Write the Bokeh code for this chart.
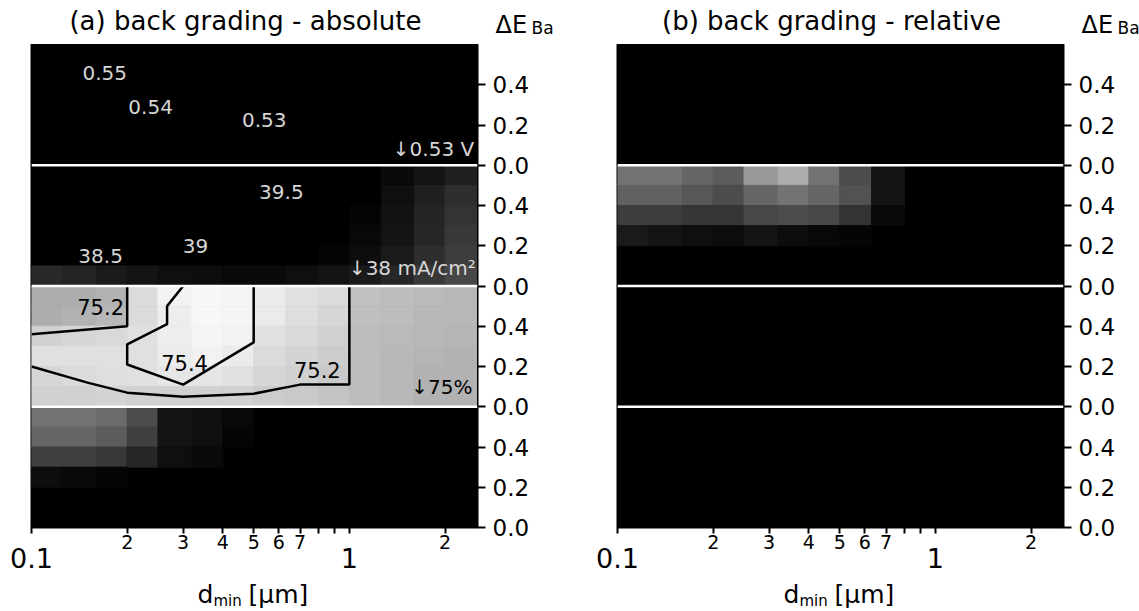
import numpy as np
from bokeh.plotting import figure
from bokeh.models import (FixedTicker, CustomJSTickFormatter, Span, LogAxis, LinearAxis,
                          ColumnDataSource, Range1d)
from bokeh.layouts import row, column
from bokeh.embed import file_html
from bokeh.resources import INLINE
from bokeh.core.properties import value

# ---------------- data ----------------
X_MIN, X_MAX = 0.1, 2.53
BAND_H = 0.6                       # each band spans dE_Ba = 0 ... 0.6
BAND_OFFSET = {"eta": 0.0, "FF": 0.6, "Jsc": 1.2, "Voc": 1.8}
BAND_TICKS = [0.0, 0.2, 0.4]

# heat-map cells: log-spaced d_min columns, 0.1 rows (listed top row first)
X_EDGES = [0.1, 0.125, 0.16, 0.2, 0.25, 0.32, 0.4, 0.5, 0.63, 0.8, 1.0, 1.26, 1.6, 2.0, 2.53]
ROW_TOPS = [0.6, 0.5, 0.4, 0.3, 0.2, 0.1]

a_Jsc = [
    [0, 0, 0, 0, 0, 0, 0, 0, 0, 0, 0.00, 0.04, 0.08, 0.12],
    [0, 0, 0, 0, 0, 0, 0, 0, 0, 0, 0.00, 0.06, 0.12, 0.18],
    [0, 0, 0, 0, 0, 0, 0, 0, 0, 0, 0.02, 0.07, 0.14, 0.20],
    [0, 0, 0, 0, 0, 0, 0, 0, 0, 0, 0.03, 0.08, 0.15, 0.22],
    [0, 0, 0, 0, 0, 0, 0, 0, 0, 0.02, 0.05, 0.10, 0.18, 0.24],
    [0.16, 0.14, 0.10, 0.08, 0.06, 0.05, 0.04, 0.04, 0.06, 0.08, 0.10, 0.15, 0.22, 0.28],
]
a_FF = [
    [0.68, 0.68, 0.70, 0.86, 0.95, 0.97, 0.96, 0.92, 0.88, 0.86, 0.76, 0.74, 0.73, 0.72],
    [0.68, 0.70, 0.72, 0.86, 0.93, 0.97, 0.96, 0.92, 0.87, 0.84, 0.75, 0.74, 0.72, 0.72],
    [0.82, 0.84, 0.85, 0.88, 0.93, 0.96, 0.95, 0.88, 0.85, 0.82, 0.74, 0.73, 0.72, 0.71],
    [0.88, 0.88, 0.88, 0.88, 0.92, 0.95, 0.92, 0.86, 0.83, 0.80, 0.74, 0.72, 0.71, 0.70],
    [0.84, 0.86, 0.87, 0.88, 0.90, 0.90, 0.88, 0.84, 0.82, 0.79, 0.74, 0.72, 0.70, 0.70],
    [0.82, 0.82, 0.83, 0.82, 0.82, 0.82, 0.82, 0.80, 0.79, 0.77, 0.74, 0.72, 0.70, 0.70],
]
a_eta = [
    [0.45, 0.45, 0.42, 0.30, 0.08, 0.06, 0.03, 0, 0, 0, 0, 0, 0, 0],
    [0.40, 0.40, 0.36, 0.25, 0.08, 0.06, 0.02, 0, 0, 0, 0, 0, 0, 0],
    [0.25, 0.25, 0.22, 0.15, 0.06, 0.04, 0.00, 0, 0, 0, 0, 0, 0, 0],
    [0.05, 0.04, 0.02, 0.00, 0.00, 0.00, 0.00, 0, 0, 0, 0, 0, 0, 0],
    [0, 0, 0, 0, 0, 0, 0, 0, 0, 0, 0, 0, 0, 0],
    [0, 0, 0, 0, 0, 0, 0, 0, 0, 0, 0, 0, 0, 0],
]
b_Jsc = [
    [0.45, 0.45, 0.40, 0.36, 0.60, 0.68, 0.45, 0.30, 0.08, 0, 0, 0, 0, 0],
    [0.38, 0.38, 0.34, 0.30, 0.40, 0.45, 0.40, 0.32, 0.08, 0, 0, 0, 0, 0],
    [0.24, 0.24, 0.21, 0.21, 0.28, 0.30, 0.28, 0.20, 0.04, 0, 0, 0, 0, 0],
    [0.10, 0.08, 0.06, 0.05, 0.08, 0.05, 0.03, 0.02, 0.00, 0, 0, 0, 0, 0],
    [0, 0, 0, 0, 0, 0, 0, 0, 0, 0, 0, 0, 0, 0],
    [0, 0, 0, 0, 0, 0, 0, 0, 0, 0, 0, 0, 0, 0],
]

# FF contour lines of panel (a)  (d_min [um], dE_Ba [eV])
ff_c1_x = [0.1, 0.2, 0.2]
ff_c1_y = [0.36, 0.40, 0.6]
ff_c2_x = [0.3, 0.267, 0.267, 0.2, 0.2, 0.3, 0.5, 0.5]
ff_c2_y = [0.6, 0.50, 0.41, 0.31, 0.21, 0.11, 0.32, 0.6]
ff_c3_x = [0.1, 0.15, 0.2, 0.3, 0.5, 0.65, 0.7, 1.0, 1.0]
ff_c3_y = [0.20, 0.12, 0.07, 0.05, 0.065, 0.10, 0.11, 0.11, 0.6]

# contour labels / annotations of panel (a)
lab_text = ["0.55", "0.54", "0.53", "39.5", "39", "38.5"]
lab_x = [0.170, 0.237, 0.540, 0.611, 0.328, 0.165]
lab_y = [0.456, 0.287, 0.227, 0.465, 0.201, 0.147]
lab_band = ["Voc", "Voc", "Voc", "Jsc", "Jsc", "Jsc"]

ff_lab_text = ["75.2", "75.4", "75.2"]
ff_lab_x = [0.165, 0.303, 0.793]
ff_lab_y = [0.496, 0.218, 0.183]

ref_text = ["\u21930.53 V", "\u219338 mA/cm\u00b2", "\u219375%"]
ref_x = [2.47, 2.50, 2.44]
ref_y = [0.083, 0.087, 0.10]
ref_band = ["Voc", "Jsc", "FF"]
ref_color = ["#d6d6d6", "#d6d6d6", "#000000"]

x_major = [0.1, 1.0]
x_labelled_minor = [0.2, 0.3, 0.4, 0.5, 0.6, 0.7, 2.0]
x_unlabelled_minor = [0.8, 0.9]

FONT = "DejaVu Sans"
FW, FH = 446, 483
HEAD_H = 44
MAIN_BB = 48
FOOT_H = 611 - HEAD_H - FH - MAIN_BB


def gray(g):
    v = int(round(255 * max(0.0, min(1.0, g))))
    return "#%02x%02x%02x" % (v, v, v)


def add_grid(p, grid, band):
    off = BAND_OFFSET[band]
    L, R, B, T, C = [], [], [], [], []
    for r, top in enumerate(ROW_TOPS):
        for c in range(len(X_EDGES) - 1):
            g = grid[r][c]
            if g <= 0:
                continue
            L.append(X_EDGES[c]); R.append(X_EDGES[c + 1])
            T.append(off + top); B.append(off + top - 0.1)
            C.append(gray(g))
    src = ColumnDataSource(dict(left=L, right=R, bottom=B, top=T, color=C))
    p.quad(left="left", right="right", bottom="bottom", top="top",
           fill_color="color", line_color="color", line_width=1, source=src)


def bare_axis(ax, label_js, size, standoff):
    ax.formatter = CustomJSTickFormatter(code=label_js)
    ax.axis_line_color = None
    ax.major_tick_line_color = None
    ax.minor_tick_line_color = None
    ax.major_tick_out = 0
    ax.major_tick_in = 0
    ax.minor_tick_out = 0
    ax.minor_tick_in = 0
    ax.major_label_standoff = standoff
    ax.major_label_text_font = FONT
    ax.major_label_text_font_size = size
    ax.major_label_text_color = "black"


def strip(height, bl, br, with_right_axis=False):
    """Text strip (header / footer); frame coordinates in pixels, y upward."""
    s = figure(frame_width=FW, frame_height=height, x_range=Range1d(0, FW),
               y_range=Range1d(0, height), min_border_left=bl, min_border_right=br,
               min_border_top=0, min_border_bottom=0, x_axis_location=None,
               y_axis_location="right" if with_right_axis else None, title=None,
               output_backend="svg", toolbar_location=None)
    s.outline_line_color = None
    s.grid.visible = False
    s.background_fill_color = "white"
    s.border_fill_color = "white"
    return s


def stext(s, x, y, t, size, align="left"):
    s.text(x=[x], y=[y], text=[t], text_align=align, text_baseline="alphabetic",
           text_font=value(FONT), text_font_size=size, text_color="black")


def make_panel(title, bl, br):
    p = figure(x_axis_type="log", x_range=Range1d(X_MIN, X_MAX),
               y_range=Range1d(0, 4 * BAND_H), y_axis_location="right", title=None,
               frame_width=FW, frame_height=FH,
               min_border_left=bl, min_border_right=br,
               min_border_top=0, min_border_bottom=MAIN_BB,
               output_backend="svg", toolbar_location=None)
    p.background_fill_color = "black"
    p.border_fill_color = "white"
    p.outline_line_color = "black"
    p.outline_line_width = 2
    p.grid.visible = False

    # axis next to the frame: ticks + small mantissa labels
    xa = p.xaxis[0]
    xa.ticker = FixedTicker(ticks=x_major + x_labelled_minor, minor_ticks=x_unlabelled_minor)
    xa.formatter = CustomJSTickFormatter(code="""
        const m = Math.round(tick / Math.pow(10, Math.floor(Math.log10(tick) + 1e-9)));
        return m == 1 ? "" : String(m);""")
    xa.major_tick_out = 6
    xa.major_tick_in = 0
    xa.minor_tick_out = 6
    xa.minor_tick_in = 0
    xa.major_tick_line_width = 2
    xa.minor_tick_line_width = 2
    xa.major_label_standoff = 1
    xa.major_label_text_font = FONT
    xa.major_label_text_font_size = "19px"
    xa.major_label_text_color = "black"
    xa.axis_line_color = "black"

    # second axis: decade labels 0.1 and 1
    xb = LogAxis(ticker=FixedTicker(ticks=x_major))
    bare_axis(xb, "return String(parseFloat(tick.toPrecision(3)));", "27px", -4)
    p.add_layout(xb, "below")

    ya = p.yaxis[0]
    ya.ticker = FixedTicker(ticks=[k * BAND_H + t for k in range(4) for t in BAND_TICKS])
    ya.formatter = CustomJSTickFormatter(
        code="const v = Math.round(tick*10) % 6; return (v/10).toFixed(1);")
    ya.major_tick_out = 8
    ya.major_tick_in = 0
    ya.major_tick_line_width = 2
    ya.major_label_standoff = 7
    ya.major_label_text_font = FONT
    ya.major_label_text_font_size = "23px"
    ya.major_label_text_color = "black"
    ya.axis_line_color = "black"

    # header: panel title and the dE_Ba axis title (as two stacked right axes)
    head = strip(HEAD_H, bl, br, with_right_axis=True)
    stext(head, 214, HEAD_H - 20, title, "26px", align="center")
    hy = head.yaxis[0]
    hy.ticker = FixedTicker(ticks=[8])
    bare_axis(hy, "return '\u0394E';", "24px", 18)
    hs = LinearAxis(ticker=FixedTicker(ticks=[3]))
    bare_axis(hs, "return 'Ba';", "17px", 1)
    head.add_layout(hs, "right")

    # footer: d_min [um]
    foot = strip(FOOT_H, bl, br)
    stext(foot, 166, 17, "d", "25px")
    stext(foot, 182, 11, "min", "15px")
    stext(foot, 217, 17, "[\u00b5m]", "25px")
    return p, head, foot


def add_band_lines(p):
    for b in ["FF", "Jsc", "Voc"]:
        p.add_layout(Span(location=BAND_OFFSET[b], dimension="width",
                          line_color="white", line_width=2.5))


# ---------------- panel (a) ----------------
pa, ha, fa = make_panel("(a) back grading - absolute", 31, 88)
add_grid(pa, a_Jsc, "Jsc")
add_grid(pa, a_FF, "FF")
add_grid(pa, a_eta, "eta")
add_band_lines(pa)
off = BAND_OFFSET["FF"]
for cx, cy in [(ff_c1_x, ff_c1_y), (ff_c2_x, ff_c2_y), (ff_c3_x, ff_c3_y)]:
    pa.line(cx, [off + v for v in cy], line_color="black", line_width=2.5)

pa.text(x=lab_x, y=[BAND_OFFSET[b] + v for b, v in zip(lab_band, lab_y)], text=lab_text,
        text_align="center", text_baseline="middle", text_font=value(FONT),
        text_font_size="20px", text_color="#d6d6d6")
pa.text(x=ff_lab_x, y=[off + v for v in ff_lab_y], text=ff_lab_text,
        text_align="center", text_baseline="middle", text_font=value(FONT),
        text_font_size="21px", text_color="black")
pa.text(x=ref_x, y=[BAND_OFFSET[b] + v for b, v in zip(ref_band, ref_y)], text=ref_text,
        text_align="right", text_baseline="middle", text_font=value(FONT),
        text_font_size="20px", text_color=ref_color)

# ---------------- panel (b) ----------------
pb, hb, fb = make_panel("(b) back grading - relative", 52, 76)
add_grid(pb, b_Jsc, "Jsc")
add_band_lines(pb)

layout = row(column(ha, pa, fa, spacing=0), column(hb, pb, fb, spacing=0), spacing=0)
open("out.html", "w").write(file_html(layout, INLINE))
